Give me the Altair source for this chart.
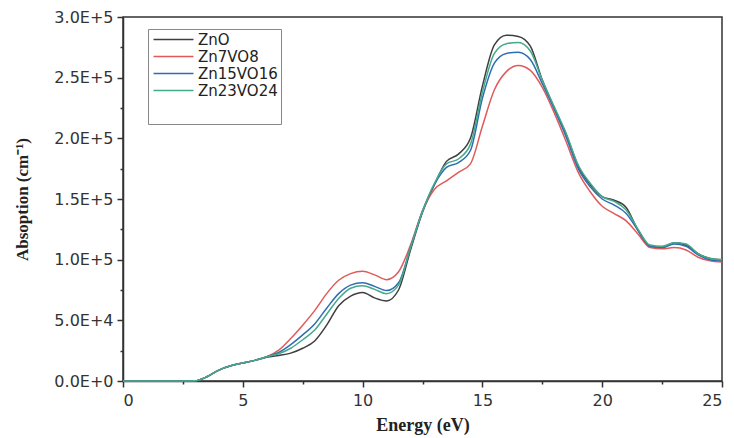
import altair as alt
import pandas as pd

energy = [0, 1, 2, 3, 3.5, 4, 4.5, 5, 5.5, 6, 6.5, 7, 7.5, 8, 8.5, 9, 9.5, 10,
          10.5, 11, 11.5, 12, 12.5, 13, 13.5, 14, 14.5, 15, 15.5, 16, 16.5, 17,
          17.5, 18, 18.5, 19, 19.5, 20, 20.5, 21, 21.5, 22, 22.5, 23, 23.5, 24,
          24.5, 25]

zno = [0, 0, 0, 0.002, 0.035, 0.09, 0.125, 0.148, 0.17, 0.195, 0.21, 0.23,
       0.27, 0.33, 0.46, 0.62, 0.70, 0.73, 0.685, 0.66, 0.75, 1.08, 1.39, 1.62,
       1.81, 1.87, 2.00, 2.43, 2.77, 2.85, 2.84, 2.76, 2.48, 2.25, 2.03, 1.77,
       1.62, 1.52, 1.49, 1.43, 1.24, 1.11, 1.10, 1.14, 1.12, 1.05, 1.01, 1.00]

zn7vo8 = [0, 0, 0, 0.002, 0.035, 0.09, 0.125, 0.148, 0.17, 0.20, 0.255, 0.35,
          0.46, 0.58, 0.72, 0.83, 0.885, 0.905, 0.875, 0.835, 0.90, 1.12, 1.40,
          1.58, 1.65, 1.72, 1.79, 2.10, 2.40, 2.55, 2.60, 2.56, 2.42, 2.21, 1.97,
          1.72, 1.56, 1.44, 1.38, 1.32, 1.21, 1.10, 1.09, 1.10, 1.08, 1.02, 0.99,
          0.98]

zn15vo16 = [0, 0, 0, 0.002, 0.035, 0.09, 0.125, 0.148, 0.17, 0.20, 0.235, 0.30,
            0.38, 0.47, 0.60, 0.72, 0.79, 0.81, 0.78, 0.745, 0.81, 1.10, 1.40,
            1.62, 1.76, 1.80, 1.90, 2.33, 2.62, 2.70, 2.71, 2.65, 2.45, 2.24,
            2.01, 1.75, 1.60, 1.50, 1.45, 1.38, 1.24, 1.11, 1.10, 1.13, 1.11,
            1.04, 1.00, 0.99]

zn23vo24 = [0, 0, 0, 0.002, 0.035, 0.09, 0.125, 0.148, 0.17, 0.20, 0.225, 0.27,
            0.34, 0.42, 0.55, 0.68, 0.765, 0.785, 0.755, 0.72, 0.79, 1.10, 1.40,
            1.63, 1.79, 1.83, 1.95, 2.38, 2.70, 2.78, 2.79, 2.72, 2.48, 2.26,
            2.04, 1.78, 1.63, 1.52, 1.48, 1.41, 1.25, 1.12, 1.11, 1.14, 1.13,
            1.05, 1.01, 1.00]

series_names = ["ZnO", "Zn7VO8", "Zn15VO16", "Zn23VO24"]
series_values = [zno, zn7vo8, zn15vo16, zn23vo24]
series_colors = ["#3f3f3f", "#e05a5a", "#2f6db3", "#45a98b"]

rows = []
for name, vals in zip(series_names, series_values):
    for e, v in zip(energy, vals):
        rows.append({"Energy": e, "Absorption": v * 1e5, "Sample": name})
df = pd.DataFrame(rows)

x_ticks = [i * 2.5 for i in range(11)]
y_ticks = [i * 25000 for i in range(13)]

chart = alt.Chart(df).mark_line(
    interpolate="monotone", strokeWidth=1.5
).encode(
    x=alt.X("Energy:Q",
            scale=alt.Scale(domain=[0, 25], nice=False, zero=False),
            axis=alt.Axis(
                values=x_ticks,
                labelExpr="datum.value % 5 == 0 ? datum.label : ''",
                tickSize={"condition": {"test": "datum.value % 5 == 0", "value": 6}, "value": 3},
                title="Energy (eV)",
            )),
    y=alt.Y("Absorption:Q",
            scale=alt.Scale(domain=[0, 300000], nice=False),
            axis=alt.Axis(
                values=y_ticks,
                labelExpr="datum.value % 50000 == 0 ? replace(format(datum.value, '.1e'), 'e', 'E') : ''",
                tickSize={"condition": {"test": "datum.value % 50000 == 0", "value": 6}, "value": 3},
                title="Absoption (cm⁻¹)",
            )),
    color=alt.Color("Sample:N",
                    scale=alt.Scale(domain=series_names, range=series_colors),
                    legend=alt.Legend(
                        title=" ",
                        titleOrient="bottom",
                        titleFontSize=14,
                        titlePadding=8,
                        orient="none",
                        legendX=25,
                        legendY=12,
                        symbolType="M-1,0H7",
                        symbolSize=100,
                        symbolStrokeWidth=1.5,
                        symbolFillColor="transparent",
                        labelOffset=32,
                        labelFont="DejaVu Sans",
                        labelFontSize=15,
                        labelColor="#222",
                        rowPadding=1,
                        padding=3,
                        strokeColor="#888",
                        fillColor="white",
                    )),
).properties(
    width=599,
    height=364,
    autosize=alt.AutoSizeParams(type="none"),
    padding={"left": 123, "top": 17, "right": 12, "bottom": 57},
).configure_view(
    stroke="#333", strokeWidth=1.5
).configure_axis(
    grid=False,
    domainColor="#333",
    domainWidth=1.5,
    tickColor="#333",
    tickWidth=1.5,
    labelFont="DejaVu Sans",
    labelFontSize=16,
    labelColor="#333",
    titleFont="Liberation Serif",
    titleFontWeight="bold",
    titleFontSize=18,
    titleColor="#222",
).configure_axisX(
    labelPadding=5,
    titlePadding=8,
).configure_axisY(
    labelPadding=4,
    titlePadding=22,
    titleFontSize=17,
)

chart.save("out.html", embed_options={"renderer": "svg", "actions": False})
